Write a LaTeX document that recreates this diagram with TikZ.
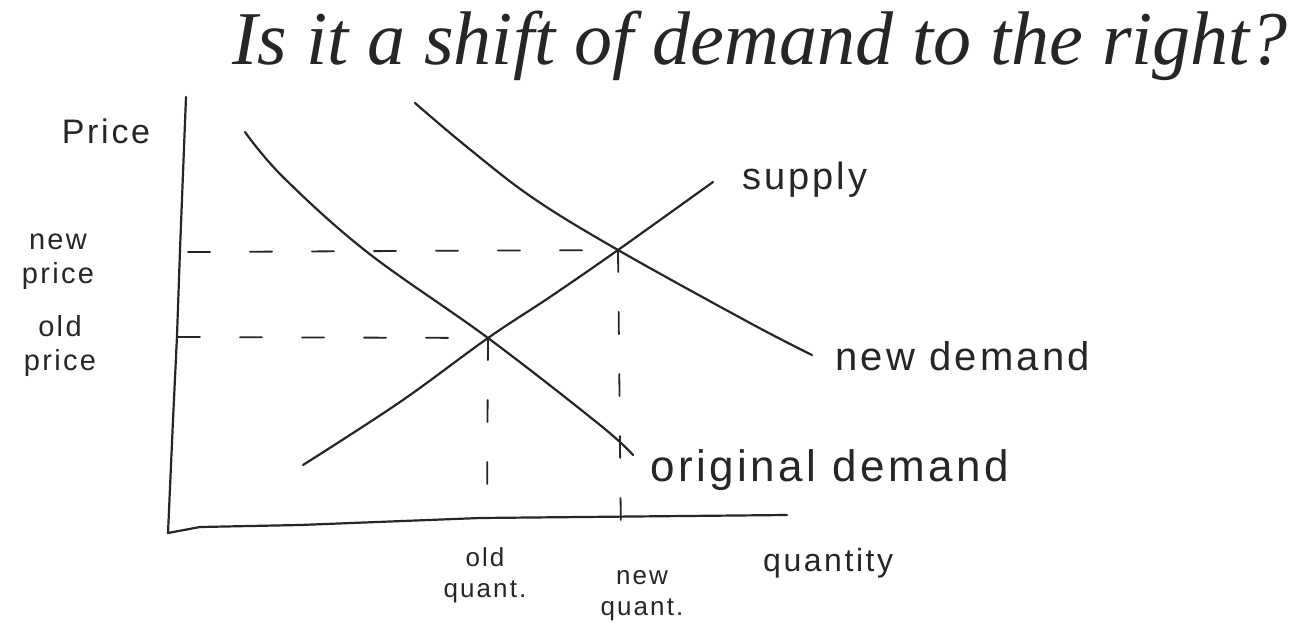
\documentclass[tikz,border=0pt]{standalone}
\usepackage{fontspec}
\setmainfont{Liberation Sans}
\newfontfamily\handfont[LetterSpace=8]{Liberation Sans}
\newfontfamily\titlefont{Liberation Serif}
\begin{document}
\begin{tikzpicture}[x=1pt,y=-1pt,
  curve/.style={line width=2.2pt, line cap=round, line join=round, draw=black!85},
  guide/.style={line width=1.8pt, line cap=round, draw=black!85, dash pattern=on 22pt off 40pt},
  lbl/.style={inner sep=0pt, align=center, text=black!85}]
\useasboundingbox[fill=white] (0,0) rectangle (1301,626);

% axes
\coordinate (ytop) at (186,97);
\coordinate (origin) at (168,533);
\coordinate (xend) at (787,515);
\draw[curve] (ytop) -- (180,250) -- (177,336) -- (173,420) -- (origin) -- (200,527) -- (300,525) -- (480,518) -- (xend);

% equilibria
\coordinate (E0) at (488,338);
\coordinate (E1) at (618,250);

% curves
\draw[curve] plot[smooth, tension=0.6] coordinates {(245,132) (283,177) (367,252) (E0) (600,425) (633,455)};
\draw[curve] plot[smooth, tension=0.6] coordinates {(415,103) (467,147) (533,198) (E1) (750,323) (812,355)};
\draw[curve] plot[smooth, tension=0.6] coordinates {(303,465) (400,402) (E0) (550,297) (E1) (713,182)};

% guides
\coordinate (pnew) at (188,252);
\coordinate (pold) at (178,337);
\coordinate (qold) at (487,512);
\coordinate (qnew) at (621,540);
\draw[guide] (pnew) -- (E1);
\draw[guide] (pold) -- (E0);
\draw[guide] (E0) -- (qold);
\draw[guide] (E1) -- (qnew);

% labels
\node[lbl, font=\titlefont\itshape\fontsize{76}{78}\selectfont] (title) at (760,46) {Is it a shift of demand to the right?};
\node[lbl, font=\handfont\fontsize{34}{36}\selectfont] (price) at (106,131) {Price};
\node[lbl, font=\handfont\fontsize{29}{34}\selectfont] (newprice) at (58,262) {new\\price};
\node[lbl, font=\handfont\fontsize{29}{34}\selectfont] (oldprice) at (60,346) {old\\price};
\node[lbl, font=\handfont\fontsize{38}{40}\selectfont, anchor=west] (supply) at (742,180) {supply};
\node[lbl, font=\handfont\fontsize{40}{42}\selectfont, anchor=west] (newdemand) at (835,356) {new demand};
\node[lbl, font=\handfont\fontsize{44}{46}\selectfont, anchor=west] (origdemand) at (650,470) {original demand};
\node[lbl, font=\handfont\fontsize{26}{31}\selectfont] (oldquant) at (485,575) {old\\quant.};
\node[lbl, font=\handfont\fontsize{26}{31}\selectfont] (newquant) at (642,596) {new\\quant.};
\node[lbl, font=\handfont\fontsize{32}{34}\selectfont, anchor=west] (quantity) at (763,563) {quantity};
\end{tikzpicture}
\end{document}
